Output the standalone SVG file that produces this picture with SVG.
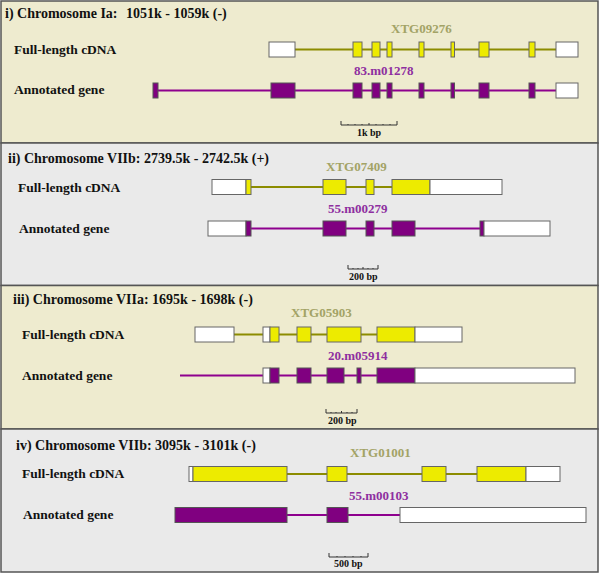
<svg xmlns="http://www.w3.org/2000/svg" width="600" height="573" viewBox="0 0 600 573">
<style>
.bgY{fill:#EEEBCF;stroke:#555;stroke-width:1.5}
.bgG{fill:#EAEAEA;stroke:#555;stroke-width:1.5}
.t{font-family:"Liberation Serif","Times New Roman",serif;font-weight:bold;fill:#111}
.title{font-size:14px}
.row{font-size:13.5px}
.yl{fill:#EDEB00;stroke:#666;stroke-width:1}
.pu{fill:#800080;stroke:#555;stroke-width:1}
.wh{fill:#FFFFFF;stroke:#666;stroke-width:1}
.li{stroke:#8C8C00;stroke-width:2;fill:none}
.lp{stroke:#8E008E;stroke-width:2;fill:none}
.ly{font-family:"Liberation Serif","Times New Roman",serif;font-weight:bold;font-size:13px;fill:#A3A366}
.lpu{font-family:"Liberation Serif","Times New Roman",serif;font-weight:bold;font-size:13px;fill:#8E2FA0}
.sb{stroke:#333;stroke-width:1;fill:none}
.sl{font-family:"Liberation Serif","Times New Roman",serif;font-weight:bold;font-size:10px;fill:#111}
</style>

<!-- panel backgrounds -->
<rect class="bgY" x="1" y="1" width="597" height="142"/>
<rect class="bgG" x="1" y="143" width="597" height="142.5"/>
<rect class="bgY" x="1" y="285.5" width="597" height="143.5"/>
<rect class="bgG" x="1" y="429" width="597" height="143"/>

<!-- titles / row labels -->
<g id="labels">
<text class="t title" x="5" y="18">i) Chromosome Ia:</text>
<text class="t title" x="126" y="18">1051k - 1059k (-)</text>
<text class="t row" x="14" y="54">Full-length cDNA</text>
<text class="t row" x="14" y="94">Annotated gene</text>

<text class="t title" x="8" y="163">ii) Chromosome VIIb: 2739.5k - 2742.5k (+)</text>
<text class="t row" x="18" y="192">Full-length cDNA</text>
<text class="t row" x="19" y="233">Annotated gene</text>

<text class="t title" x="13" y="304">iii) Chromosome VIIa: 1695k - 1698k (-)</text>
<text class="t row" x="22" y="339">Full-length cDNA</text>
<text class="t row" x="22" y="380">Annotated gene</text>

<text class="t title" x="16" y="450">iv) Chromosome VIIb: 3095k - 3101k (-)</text>
<text class="t row" x="22" y="478">Full-length cDNA</text>
<text class="t row" x="23" y="519">Annotated gene</text>
</g>

<!-- intron lines -->
<g id="connectors">
<line class="li" x1="295" y1="49.5" x2="556" y2="49.5"/>
<line class="lp" x1="158" y1="90.5" x2="556" y2="90.5"/>
<line class="li" x1="251" y1="187" x2="392" y2="187"/>
<line class="lp" x1="251" y1="228.5" x2="480" y2="228.5"/>
<line class="li" x1="234" y1="334.5" x2="377" y2="334.5"/>
<line class="lp" x1="180" y1="375.5" x2="377" y2="375.5"/>
<line class="li" x1="287" y1="474" x2="477" y2="474"/>
<line class="lp" x1="287" y1="515" x2="400" y2="515"/>
</g>

<!-- panel i -->
<g id="cdna1">
<rect class="wh" x="269" y="42" width="26" height="15"/>
<rect class="yl" x="353" y="42" width="9" height="15"/>
<rect class="yl" x="372" y="42" width="8" height="15"/>
<rect class="yl" x="387" y="42" width="5" height="15"/>
<rect class="yl" x="419" y="42" width="5" height="15"/>
<rect class="yl" x="451" y="42" width="3.5" height="15"/>
<rect class="yl" x="479" y="42" width="10" height="15"/>
<rect class="yl" x="529" y="42" width="6" height="15"/>
<rect class="wh" x="556" y="42" width="22" height="15"/>
<text class="ly" x="391" y="33">XTG09276</text>
</g>
<g id="gene1">
<rect class="pu" x="153" y="83" width="5" height="15"/>
<rect class="pu" x="271" y="83" width="24" height="15"/>
<rect class="pu" x="353" y="83" width="9" height="15"/>
<rect class="pu" x="372" y="83" width="8" height="15"/>
<rect class="pu" x="387" y="83" width="5" height="15"/>
<rect class="pu" x="419" y="83" width="5" height="15"/>
<rect class="pu" x="451" y="83" width="3.5" height="15"/>
<rect class="pu" x="479" y="83" width="10" height="15"/>
<rect class="pu" x="529" y="83" width="6" height="15"/>
<rect class="wh" x="556" y="83" width="22" height="15"/>
<text class="lpu" x="354" y="75">83.m01278</text>
</g>
<g id="scale1">
<path class="sb" d="M341 121 V125 H397 V121 M348 124 V125 M355 124 V125 M362 124 V125 M369 123 V125 M376 124 V125 M383 124 V125 M390 124 V125"/>
<text class="sl" x="357" y="136">1k bp</text>
</g>

<!-- panel ii -->
<g id="cdna2">
<rect class="wh" x="212" y="179.5" width="34" height="15"/>
<rect class="yl" x="246" y="179.5" width="5" height="15"/>
<rect class="yl" x="323" y="179.5" width="23" height="15"/>
<rect class="yl" x="366" y="179.5" width="8" height="15"/>
<rect class="yl" x="392" y="179.5" width="38" height="15"/>
<rect class="wh" x="430" y="179.5" width="72" height="15"/>
<text class="ly" x="326" y="171">XTG07409</text>
</g>
<g id="gene2">
<rect class="wh" x="208" y="221" width="38" height="15"/>
<rect class="pu" x="246" y="221" width="5" height="15"/>
<rect class="pu" x="323" y="221" width="23" height="15"/>
<rect class="pu" x="366" y="221" width="8" height="15"/>
<rect class="pu" x="392" y="221" width="23" height="15"/>
<rect class="pu" x="480" y="221" width="4" height="15"/>
<rect class="wh" x="484" y="221" width="66" height="15"/>
<text class="lpu" x="328" y="213">55.m00279</text>
</g>
<g id="scale2">
<path class="sb" d="M348 265 V269 H378 V265 M353 268 V269 M358 268 V269 M363 267 V269 M368 268 V269 M373 268 V269"/>
<text class="sl" x="349" y="280">200 bp</text>
</g>

<!-- panel iii -->
<g id="cdna3">
<rect class="wh" x="195" y="327" width="39" height="15"/>
<rect class="wh" x="263" y="327" width="7" height="15"/>
<rect class="yl" x="270" y="327" width="9" height="15"/>
<rect class="yl" x="297" y="327" width="14" height="15"/>
<rect class="yl" x="327" y="327" width="34" height="15"/>
<rect class="yl" x="377" y="327" width="38" height="15"/>
<rect class="wh" x="415" y="327" width="47" height="15"/>
<text class="ly" x="291" y="317">XTG05903</text>
</g>
<g id="gene3">
<rect class="wh" x="263" y="368" width="7" height="15"/>
<rect class="pu" x="270" y="368" width="9" height="15"/>
<rect class="pu" x="297" y="368" width="14" height="15"/>
<rect class="pu" x="327" y="368" width="17" height="15"/>
<rect class="pu" x="357" y="368" width="4" height="15"/>
<rect class="pu" x="377" y="368" width="38" height="15"/>
<rect class="wh" x="415" y="368" width="160" height="15"/>
<text class="lpu" x="328" y="360">20.m05914</text>
</g>
<g id="scale3">
<path class="sb" d="M326 409 V413 H357 V409 M331 412 V413 M336 412 V413 M341.5 411 V413 M347 412 V413 M352 412 V413"/>
<text class="sl" x="328" y="424">200 bp</text>
</g>

<!-- panel iv -->
<g id="cdna4">
<rect class="wh" x="189" y="466.5" width="4" height="15"/>
<rect class="yl" x="193" y="466.5" width="94" height="15"/>
<rect class="yl" x="327" y="466.5" width="20" height="15"/>
<rect class="yl" x="422" y="466.5" width="24" height="15"/>
<rect class="yl" x="477" y="466.5" width="49" height="15"/>
<rect class="wh" x="526" y="466.5" width="34" height="15"/>
<text class="ly" x="350" y="457">XTG01001</text>
</g>
<g id="gene4">
<rect class="pu" x="175" y="507.5" width="112" height="15"/>
<rect class="pu" x="327" y="507.5" width="21" height="15"/>
<rect class="wh" x="400" y="507.5" width="186" height="15"/>
<text class="lpu" x="349" y="500">55.m00103</text>
</g>
<g id="scale4">
<path class="sb" d="M329 553 V557 H368 V553 M337 556 V557 M345 556 V557 M353 556 V557 M361 556 V557"/>
<text class="sl" x="334" y="567">500 bp</text>
</g>
</svg>
